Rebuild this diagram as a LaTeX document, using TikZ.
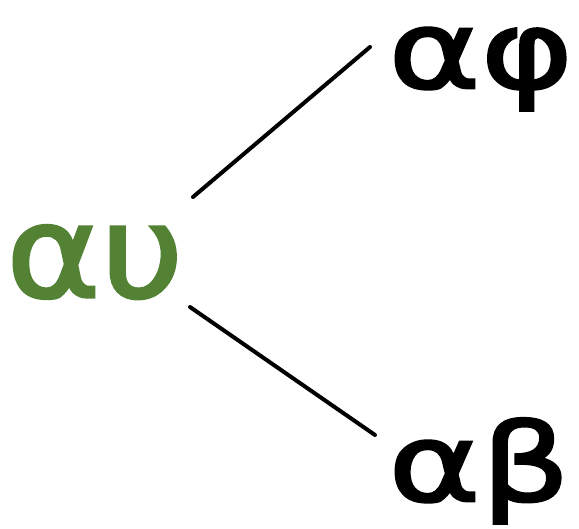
\documentclass[tikz,border=0pt]{standalone}
\usepackage{fontspec}
\setmainfont{DejaVu Sans}
\newfontfamily\handfont[FakeStretch=1.3, FakeBold=2.5]{DejaVu Sans}
\newfontfamily\handfontwide[FakeStretch=1.12, FakeBold=2.5]{DejaVu Sans}
\definecolor{leafgreen}{RGB}{84,130,53}
\tikzset{
  word/.style={inner sep=0pt, anchor=base west, font=\handfont\fontsize{108}{112}\selectfont},
  bigword/.style={inner sep=0pt, anchor=base west, font=\handfontwide\fontsize{128}{132}\selectfont},
  link/.style={line width=4pt, line cap=round, black}
}
\begin{document}
\begin{tikzpicture}[x=1pt,y=-1pt]
\useasboundingbox (0,0) rectangle (579,529);
\node[bigword, text=leafgreen] (au) at (6,297) {αυ};
\node[word] (af) at (388,88) {αφ};
\node[word] (ab) at (388,501) {αβ};
\coordinate (a1) at (193,197);
\coordinate (b1) at (370,47);
\coordinate (a2) at (190,307);
\coordinate (b2) at (375,435);
\draw[link] (a1) -- (b1);
\draw[link] (a2) -- (b2);
\end{tikzpicture}
\end{document}
